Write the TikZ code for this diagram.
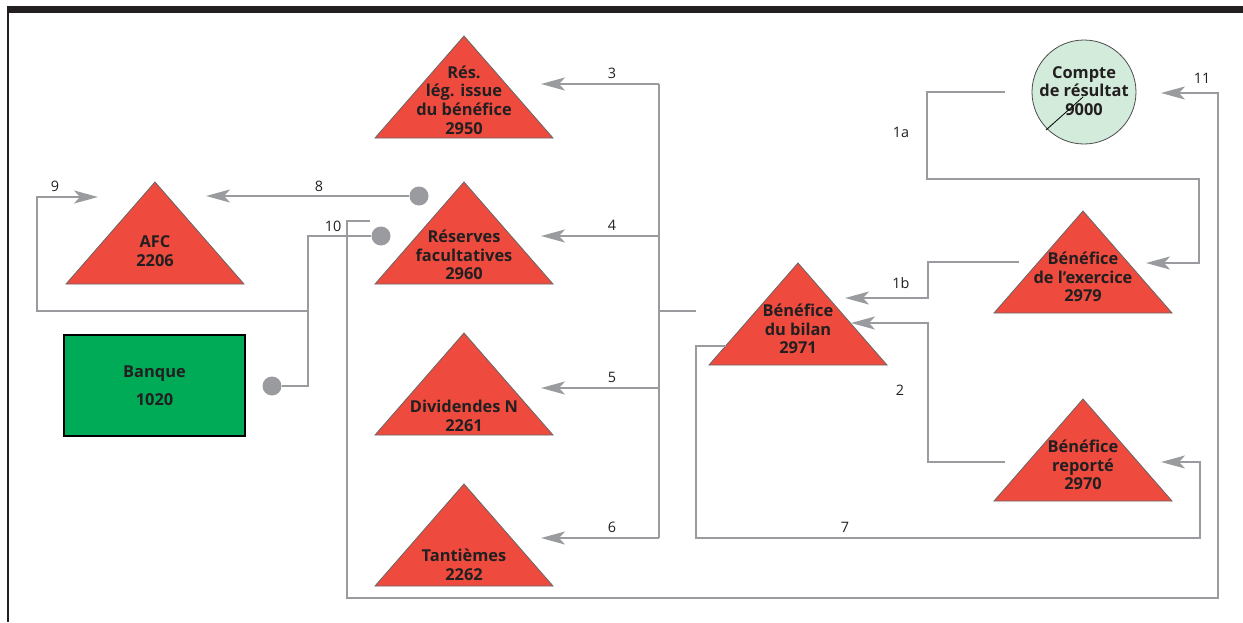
\documentclass[tikz,border=0pt]{standalone}
\usepackage{fontspec}
\setmainfont{Open Sans}
\usepackage{tikz}
\usetikzlibrary{arrows.meta}

\definecolor{acctred}{HTML}{EE4B3E}
\definecolor{linegray}{HTML}{9A9B9E}
\definecolor{bankgreen}{HTML}{00AB57}
\definecolor{resgreen}{HTML}{D2EBDB}
\definecolor{darktext}{HTML}{231F20}

\tikzset{
	acct/.style={fill=acctred, draw=black!60, line width=0.4pt},
	acctlabel/.style={align=center, text=darktext,
		font=\fontsize{8.2}{9.35}\selectfont\bfseries},
	flow/.style={draw=linegray, line width=1.2pt},
	flowarrow/.style={flow, -{Stealth[length=12pt,width=6.5pt,inset=3pt]}},
	num/.style={text=darktext, font=\fontsize{7.2}{9}\selectfont},
	dot/.style={circle, fill=linegray, inner sep=0pt, minimum size=9.5pt}
}

\begin{document}
\begin{tikzpicture}[x=0.5pt,y=-0.5pt]
	\useasboundingbox (0,0) rectangle (1243,622);

	%ramka
	\fill[darktext] (7,6) rectangle (1243,13);
	\draw[darktext, line width=0.7pt] (8,13) -- (8,622);

	%konta (trojkaty)
	\foreach \n/\ax/\ay/\ty/\txt in {
		legres/464/36/100/{Rés.\\lég. issue\\du bénéfice\\2950},
		afc/155/182/251/{AFC\\2206},
		facult/464/182/255/{Réserves\\facultatives\\2960},
		divid/464/333/416/{Dividendes N\\2261},
		tant/464/484/565/{Tantièmes\\2262},
		bilan/798/263/329/{Bénéfice\\du bilan\\2971},
		exerc/1083/211/277/{Bénéfice\\de l’exercice\\2979},
		report/1083/399/465/{Bénéfice\\reporté\\2970}}
	{
		\path[acct] (\ax,\ay) -- ++(89,102) -- ++(-178,0) -- cycle;
		\node[acctlabel] (\n) at (\ax,\ty) {\txt};
	}

	%compte de resultat i bank
	\node[circle, fill=resgreen, draw=black!70, line width=0.4pt,
		minimum size=52pt, inner sep=0pt] (res) at (1084,92) {};
	\node[acctlabel] (restxt) at (1084,91) {Compte\\de résultat\\9000};
	\draw[black, line width=0.4pt] (1046,130) -- (1083,97);
	\node[draw=black, line width=0.6pt, fill=bankgreen, minimum width=90.5pt,
		minimum height=50.5pt, acctlabel] (banque) at (154.5,385.5)
		{Banque\\[4.6pt]1020};

	%kropki
	\node[dot] (d8) at (419,196) {};
	\node[dot] (d9) at (381,236) {};
	\node[dot] (dbank) at (272,386) {};

	%punkty koncowe
	\coordinate (t1a) at (1146,263);
	\coordinate (t1b) at (845,298);
	\coordinate (t2) at (851,323);
	\coordinate (t7) at (1161,462);
	\coordinate (t8) at (206,196);
	\coordinate (t9) at (98,197);
	\coordinate (t11) at (1161,93);

	%przeplywy
	\draw[flowarrow] (1005,92) -- (927,92) -- (927,179) -- (1199,179) |- (t1a);
	\draw[flowarrow] (1019,262) -- (928,262) |- (t1b);
	\draw[flowarrow] (1005,462) -- (928,462) |- (t2);
	\draw[flow] (659,84) -- (659,538);
	\draw[flow] (659,311) -- (696,311);
	\foreach \y in {84,236,388,538}
		\draw[flowarrow] (659,\y) -- (541,\y);
	\draw[flowarrow] (726,346) -- (696,346) -- (696,538) -- (1200,538) |- (t7);
	\draw[flowarrow] (d8) -- (t8);
	\draw[flow] (dbank) -- (308,386) |- (d9);
	\draw[flowarrow] (308,311) -- (37,311) |- (t9);
	\draw[flowarrow] (370,221) -- (347,221) -- (347,598) -- (1218,598) |- (t11);

	%numery
	\foreach \t/\x/\y in {1a/901/132, 1b/901/283, 2/900/390, 3/612/73,
		4/612/225, 5/612/377, 6/612/527, 7/845/527, 8/319/186,
		9/55/186, 10/333/226, 11/1202/78}
		\node[num] (n\t) at (\x,\y) {\t};
\end{tikzpicture}
\end{document}
